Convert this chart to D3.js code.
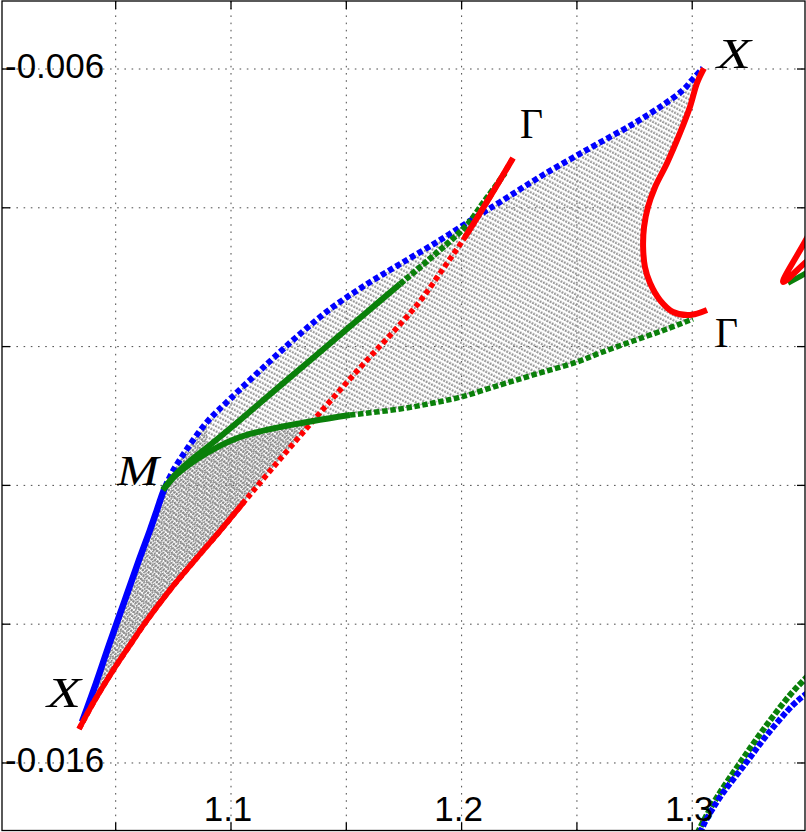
<!DOCTYPE html>
<html><head><meta charset="utf-8">
<script src="https://cdn.jsdelivr.net/npm/d3@7"></script>
<style>body{margin:0;background:#fff}svg{display:block}</style>
</head><body>
<svg id="chart" width="806" height="832"></svg>
<script>
// ---- axis ticks ----
const xGridTicks = [1.05, 1.1, 1.15, 1.2, 1.25, 1.3];
const yGridTicks = [-0.006, -0.008, -0.010, -0.012, -0.014, -0.016];
const xTickLabels = [1.1, 1.2, 1.3];
const yTickLabels = [-0.006, -0.016];

// ---- band curves [x, y] ----
const blueXM = [[1.0354,-0.015409],[1.0415,-0.014847],[1.0471,-0.0143],[1.0540,-0.013651],[1.0601,-0.013075],[1.0649,-0.012643],[1.0679,-0.012354],[1.0701,-0.012138],[1.0714,-0.012023]];
const blueMX = [[1.0714,-0.012023],[1.0748,-0.011793],[1.0809,-0.011476],[1.0896,-0.011086],[1.0996,-0.010755],[1.1156,-0.010251],[1.1299,-0.009818],[1.1442,-0.009429],[1.1590,-0.009098],[1.1733,-0.00881],[1.1893,-0.008493],[1.2049,-0.008161],[1.2167,-0.007916],[1.2353,-0.007527],[1.2557,-0.007138],[1.2743,-0.006793],[1.2873,-0.006519],[1.2960,-0.006303],[1.3003,-0.006144],[1.3047,-0.005986]];
const redXG = [[1.0341,-0.01551],[1.0410,-0.015092],[1.0484,-0.014689],[1.0562,-0.0143],[1.0627,-0.013983],[1.0735,-0.013507],[1.0844,-0.013075],[1.0952,-0.012657],[1.1056,-0.012239],[1.1169,-0.011793],[1.1299,-0.011288],[1.1442,-0.010741],[1.1590,-0.010193],[1.1711,-0.009761],[1.1820,-0.009343],[1.1928,-0.008839],[1.2015,-0.008421],[1.2080,-0.008075],[1.2154,-0.007671],[1.2223,-0.007282]];
const greenMG = [[1.0705,-0.012066],[1.0757,-0.01185],[1.0822,-0.011648],[1.0909,-0.011418],[1.1009,-0.011144],[1.1156,-0.010726],[1.1299,-0.010323],[1.1442,-0.009919],[1.1590,-0.009501],[1.1733,-0.009098],[1.1876,-0.008695],[1.2023,-0.008248],[1.2093,-0.007931],[1.2154,-0.007657],[1.2188,-0.007499]];
const greenMG2 = [[1.0705,-0.012066],[1.0757,-0.011865],[1.0822,-0.011692],[1.0896,-0.011533],[1.0996,-0.01136],[1.1082,-0.011259],[1.1212,-0.011159],[1.1356,-0.011072],[1.1516,-0.010986],[1.1733,-0.010899],[1.1876,-0.010813],[1.1997,-0.010726],[1.2167,-0.010553],[1.2310,-0.010409],[1.2500,-0.010222],[1.2600,-0.010092],[1.2743,-0.009919],[1.2891,-0.009746],[1.3003,-0.009602]];
const redXG2 = [[1.3051,-0.00599],[1.3021,-0.0062],[1.2990,-0.006548],[1.2947,-0.006922],[1.2891,-0.007354],[1.2839,-0.0077],[1.2808,-0.007988],[1.2791,-0.008277],[1.2787,-0.008565],[1.2795,-0.008853],[1.2817,-0.009084],[1.2860,-0.009329],[1.2917,-0.009501],[1.2990,-0.009545],[1.3064,-0.009473]];
const blueBR = [[1.3021,-0.01711],[1.3056,-0.01685],[1.3121,-0.01649],[1.3233,-0.016],[1.3324,-0.015597],[1.3437,-0.015164],[1.3493,-0.015006],[1.3532,-0.014905]];
const greenBR = [[1.3008,-0.01711],[1.3047,-0.01685],[1.3108,-0.01649],[1.3207,-0.016],[1.3307,-0.015524],[1.3424,-0.01502],[1.3493,-0.014775],[1.3532,-0.014646]];
const redEdge = [[1.3532,-0.008205],[1.3493,-0.008464],[1.3394,-0.009069],[1.3493,-0.008781],[1.3532,-0.00868]];
const greenEdge = [[1.3415,-0.009084],[1.3493,-0.00894],[1.3532,-0.008853]];

// ---- point labels ----
const labelText = ["X", "M", "Γ", "X", "Γ"];
const labelX = [1.0202, 1.0506, 1.2253, 1.3108, 1.3099];
const labelY = [-0.015193, -0.011994, -0.006994, -0.005986, -0.010006];
const labelItalic = [true, true, false, true, false];
const labelWidth = [34, 42, 23, 34, 23];

const svg = d3.select("#chart");
const x = d3.scaleLinear().domain([1.0007, 1.3489]).range([2, 805]);
const y = d3.scaleLinear().domain([-0.016973, -0.00502]).range([830.5, 1]);
const X0 = 2, X1 = 805, Y0 = 1, Y1 = 830.5;

const defs = svg.append("defs");
defs.append("clipPath").attr("id", "clip").append("rect")
  .attr("x", X0).attr("y", Y0).attr("width", X1 - X0).attr("height", Y1 - Y0);
const pat = defs.append("pattern").attr("id", "mesh")
  .attr("patternUnits", "userSpaceOnUse").attr("width", 4.6).attr("height", 3)
  .attr("patternTransform", "rotate(-62)");
pat.append("rect").attr("width", 2.3).attr("height", 1.8).attr("fill", "#929292");
const pat2 = defs.append("pattern").attr("id", "mesh2")
  .attr("patternUnits", "userSpaceOnUse").attr("width", 3.4).attr("height", 2.6)
  .attr("patternTransform", "rotate(-40)");
pat2.append("rect").attr("width", 2.2).attr("height", 1.5).attr("fill", "#858585");

// grid
const grid = svg.append("g").attr("stroke", "#4a4a4a").attr("stroke-width", 1)
  .attr("stroke-dasharray", "1.6,5.6");
grid.selectAll("line.v").data(xGridTicks).join("line").attr("class", "v")
  .attr("x1", d => x(d)).attr("x2", d => x(d)).attr("y1", Y0).attr("y2", Y1);
grid.selectAll("line.h").data(yGridTicks).join("line").attr("class", "h")
  .attr("y1", d => y(d)).attr("y2", d => y(d)).attr("x1", X0).attr("x2", X1);

const plot = svg.append("g").attr("clip-path", "url(#clip)");
const lineC = d3.line().x(d => x(d[0])).y(d => y(d[1])).curve(d3.curveCatmullRom.alpha(0.5));
const lineL = d3.line().x(d => x(d[0])).y(d => y(d[1]));

// gray mesh region
const meshOutline = [
  ...blueXM, ...blueMX.slice(1), ...redXG2.slice(1),
  ...greenMG2.filter(d => d[0] >= 1.1356).reverse(),
  ...redXG.filter(d => d[0] <= 1.1299).reverse()
];
plot.append("path").attr("d", lineL(meshOutline) + "Z").attr("fill", "url(#mesh)");
const darkOutline = [
  ...blueXM, ...blueMX.slice(1, 4),
  ...greenMG2.filter(d => d[0] >= 1.0896 && d[0] <= 1.1356),
  ...redXG.filter(d => d[0] <= 1.1299).reverse()
];
plot.append("path").attr("d", lineL(darkOutline) + "Z").attr("fill", "url(#mesh2)");

function curve(data, color, dash, width) {
  plot.append("path").attr("d", lineC(data)).attr("fill", "none")
    .attr("stroke", color).attr("stroke-width", width || 6)
    .attr("stroke-dasharray", dash || null).attr("stroke-linejoin", "round");
}
const BLUE = "#0000ff", RED = "#ff0000", GREEN = "#0a800a";

curve(blueXM, BLUE, null, 6.5);
curve(blueMX, BLUE, "5.5,3");
curve(redXG, RED, "5,3.2", 5.5);
curve(redXG.slice(0, 9), RED, null, 5.5);
curve(greenMG.slice(0, 10), GREEN, null, 6);
curve(greenMG.slice(9), GREEN, "5.5,2", 6);
curve(greenMG2.slice(0, 9), GREEN, null, 6);
curve(greenMG2.slice(8), GREEN, "5.5,2.6", 5.5);
curve(redXG.slice(16), RED, null, 6);
curve(redXG2, RED, null, 6);
curve(greenBR, GREEN, "5.5,2", 6);
curve(blueBR, BLUE, "5.5,2", 6);
curve(greenEdge, GREEN, null, 5.5);
curve(redEdge, RED, null, 6);

// axes box and ticks
svg.append("rect").attr("x", X0).attr("y", Y0).attr("width", X1 - X0).attr("height", Y1 - Y0)
  .attr("fill", "none").attr("stroke", "#000").attr("stroke-width", 1.3);
const tk = svg.append("g").attr("stroke", "#000").attr("stroke-width", 1.3);
yGridTicks.forEach(v => {
  tk.append("line").attr("x1", X0).attr("x2", X0 + 8).attr("y1", y(v)).attr("y2", y(v));
  tk.append("line").attr("x1", X1 - 8).attr("x2", X1).attr("y1", y(v)).attr("y2", y(v));
});
xGridTicks.forEach(v => {
  tk.append("line").attr("y1", Y1).attr("y2", Y1 - 8).attr("x1", x(v)).attr("x2", x(v));
  tk.append("line").attr("y1", Y0).attr("y2", Y0 + 8).attr("x1", x(v)).attr("x2", x(v));
});

// tick labels
const tf = "'Liberation Sans', Arial, Helvetica, sans-serif";
svg.selectAll("text.yl").data(yTickLabels).join("text").attr("class", "yl")
  .attr("x", 5).attr("y", d => y(d) + 9).attr("font-family", tf).attr("font-size", 35)
  .attr("fill", "#000").text(d => d.toFixed(3));
svg.selectAll("text.xl").data(xTickLabels).join("text").attr("class", "xl")
  .attr("x", d => x(d) - 3).attr("y", 821).attr("text-anchor", "middle")
  .attr("font-family", tf).attr("font-size", 35).attr("fill", "#000").text(d => d.toFixed(1));

// point labels
labelText.forEach((t, i) => {
  svg.append("text").attr("x", x(labelX[i])).attr("y", y(labelY[i]))
    .attr("font-family", "'Liberation Serif', 'Times New Roman', serif")
    .attr("font-size", 43).attr("font-style", labelItalic[i] ? "italic" : "normal")
    .attr("textLength", labelWidth[i]).attr("lengthAdjust", "spacingAndGlyphs")
    .attr("fill", "#000").text(t);
});
</script>
</body></html>
